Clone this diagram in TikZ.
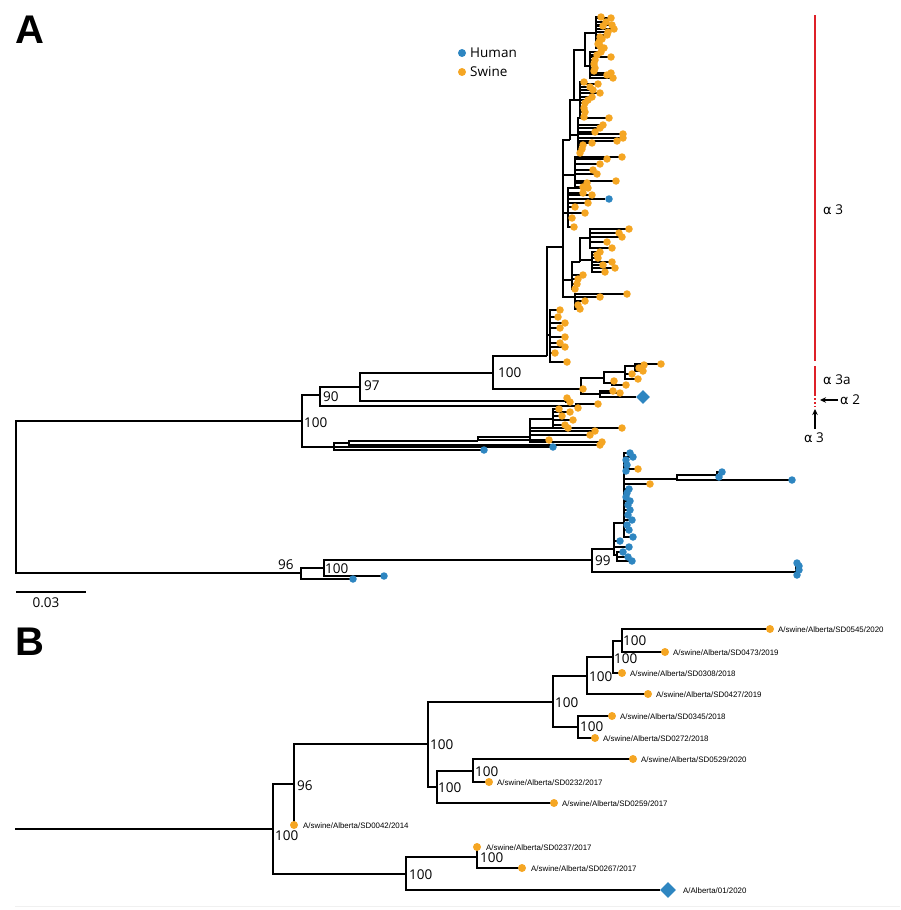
\documentclass[tikz,border=0pt]{standalone}
\usepackage{fontspec}
\setmainfont{Open Sans}
\newfontfamily\arialf{Liberation Sans}
\newfontfamily\grkf{DejaVu Sans}
\usetikzlibrary{shapes.geometric,arrows.meta}
\pgfdeclarelayer{bg}
\pgfsetlayers{bg,main}
\definecolor{orng}{RGB}{245,166,35}
\definecolor{blu}{RGB}{46,134,193}
\definecolor{redl}{RGB}{222,32,40}
\tikzset{
 brn/.style={line width=1.3pt},
 dotO/.style={circle, fill=orng, minimum size=7.5pt, inner sep=0pt},
 dotB/.style={circle, fill=blu, minimum size=7.5pt, inner sep=0pt},
 dotOb/.style={dotO, minimum size=8pt},
 bsl/.style={font=\fontsize{13.5}{14}\selectfont, inner sep=0pt, anchor=west},
 leaflab/.style={font=\arialf\fontsize{7.9}{8}\selectfont, inner sep=0pt, anchor=west},
 dmdA/.style={diamond, fill=blu, minimum size=14pt, inner sep=0pt},
 dmdB/.style={diamond, fill=blu, minimum size=16pt, inner sep=0pt},
 panlab/.style={font=\arialf\bfseries\fontsize{40}{40}\selectfont, anchor=base west, inner sep=0pt},
 redbar/.style={draw=redl, line width=2pt},
}
\newcommand\alf{{\grkf\fontsize{13}{14}\selectfont α}}
\newcommand\lnk[2]{\begin{pgfonlayer}{bg}\draw[brn] (#1) |- (#2);\end{pgfonlayer}}
\newcommand\grp[4]{%
 \foreach \xx/\yy [count=\k] in {#4}{%
   \node[#3] (#2-\k) at (\xx,\yy) {};
   \begin{pgfonlayer}{bg}\draw[brn] (#1) |- (#2-\k.center);\end{pgfonlayer}
 }}
\begin{document}
\begin{tikzpicture}[x=1pt,y=-1pt]
\useasboundingbox (0,0) rectangle (900,910);
% ================= PANEL A =================
\node[panlab] (pA) at (15,43) {A};
% legend
\node[dotB, minimum size=8pt] (lgB) at (462,53) {};
\node[bsl] (lgBt) at (470,53) {Human};
\node[dotO, minimum size=8pt] (lgO) at (462,72) {};
\node[bsl] (lgOt) at (470,72) {Swine};
% backbone
\coordinate (RA) at (16,497);
\coordinate (A1) at (302,421);
\coordinate (A2) at (301,573);
\lnk{RA}{A1}\lnk{RA}{A2}
\coordinate (A3) at (320,395);
\coordinate (L1) at (334,447);
\lnk{A1}{A3}\lnk{A1}{L1}
\coordinate (A4) at (360,387);
\coordinate (A5) at (576,406);
\lnk{A3}{A4}\lnk{A3}{A5}
\grp{A5}{a5}{dotO}{578/408,598/404}
\coordinate (A6) at (493,373);
\coordinate (A7) at (566,401);
\lnk{A4}{A6}\lnk{A4}{A7}
\grp{A7}{a7}{dotO}{567/398,570/402}
\coordinate (T0) at (547,356);
\coordinate (Q0) at (581,389);
\lnk{A6}{T0}\lnk{A6}{Q0}
% alpha 3a
\coordinate (Q1) at (604,378);
\coordinate (Q5) at (600,394);
\lnk{Q0}{Q1}\lnk{Q0}{Q5}
\grp{Q0}{q0}{dotO}{583/389}
\coordinate (Q2) at (625,372);
\coordinate (Q3) at (612,383);
\lnk{Q1}{Q2}\lnk{Q1}{Q3}
\grp{Q3}{q3}{dotO}{614/381,626/385}
\coordinate (Q4) at (635,366);
\lnk{Q2}{Q4}
\grp{Q2}{q2}{dotO}{632/374,638/379}
\grp{Q4}{q4}{dotO}{661/364,644/365,639/368,643/371}
\grp{Q5}{q5}{dotO}{613/391,620/393}
\node[dmdA] (qd) at (643,397) {};
\lnk{Q5}{qd}
% alpha 3 clade
\coordinate (S2) at (563,247);
\coordinate (G1) at (550,335);
\lnk{T0}{S2}\lnk{T0}{G1}
\grp{G1}{g1}{dotO}{560/310,558/317,565/323,560/328,565/337,560/343,565/347,555/353,567/362}
\coordinate (G2) at (575,297);
\coordinate (G3) at (572,280);
\coordinate (G5) at (568,213);
\coordinate (G6) at (575,175);
\coordinate (S3) at (570,140);
\lnk{S2}{G2}\lnk{S2}{G3}\lnk{S2}{G5}\lnk{S2}{G6}\lnk{S2}{S3}
\grp{G2}{g2}{dotO}{627/294,600/297,585/301,578/305,580/309}
\coordinate (G4) at (580,262);
\lnk{G3}{G4}
\grp{G3}{g3}{dotO}{583/275,578/279,577/284,575/289}
\coordinate (G4a) at (590,238);
\coordinate (G4b) at (592,260);
\lnk{G4}{G4a}\lnk{G4}{G4b}
\grp{G4a}{g4a}{dotO}{629/229,619/233,622/237,607/242,612/248}
\grp{G4b}{g4b}{dotO}{600/252,597/255,598/258,612/262,603/265,615/268,605/272}
\grp{G5}{g5}{dotO}{588/188,583/193,592/195,588/203,575/207,585/213,572/218,574/227}
\node[dotB] (g5b) at (609,199) {};
\lnk{G5}{g5b}
\grp{G6}{g6}{dotO}{622/157,607/159,600/164,593/170,597/174,616/181,587/183,583/187}
\coordinate (G7) at (578,135);
\coordinate (S4) at (574,100);
\lnk{S3}{G7}\lnk{S3}{S4}
\grp{G7}{g7}{dotO}{609/118,603/125,600/128,595/132,623/134,623/138,617/141,592/143,583/145,582/149,580/153}
\coordinate (G8) at (580,100);
\coordinate (S5) at (585,50);
\lnk{S4}{G8}\lnk{S4}{S5}
\grp{G8}{g8}{dotO}{584/82,598/84,590/87,593/90,600/93,592/97,588/100,585/103,584/108,585/112,584/117}
\coordinate (G9) at (590,66);
\coordinate (G10) at (596,33);
\lnk{S5}{G9}\lnk{S5}{G10}
\grp{G9}{g9}{dotO}{601/52,597/55,611/57,595/60,594/64,595/68,594/71,607/75,611/73,613/78}
\grp{G10}{g10}{dotO}{601/17,611/18,606/22,612/25,603/26,614/29,608/32,607/35,600/37,602/39,599/42,598/44,600/46,604/48}
% lower swine clade
\coordinate (L2) at (349,443);
\lnk{L1}{L2}
\grp{L1}{l1}{dotB}{553/447,484/450}
\coordinate (L3) at (478,441);
\lnk{L2}{L3}
\grp{L2}{l2}{dotO}{600/445}
\coordinate (L4) at (530,437);
\lnk{L3}{L4}
\grp{L3}{l3}{dotO}{549/440}
\coordinate (L5) at (553,419);
\lnk{L4}{L5}
\grp{L4}{l4}{dotO}{622/428,595/431,590/435,602/442}
\grp{L5}{l5}{dotO}{559/409,570/412,562/416,573/420,565/425,568/428}
% human clade
\coordinate (A8) at (324,568);
\lnk{A2}{A8}
\grp{A2}{a2}{dotB}{353/579}
\coordinate (H0) at (592,560);
\lnk{A8}{H0}
\grp{A8}{a8}{dotB}{384/576}
\coordinate (H1) at (614,549);
\coordinate (H5) at (796,572);
\lnk{H0}{H1}\lnk{H0}{H5}
\grp{H5}{h5}{dotB}{797/563,799/566,799/570,797/575}
\coordinate (H2) at (624,523);
\coordinate (H7) at (617,555);
\lnk{H1}{H2}\lnk{H1}{H7}
\grp{H1}{h1}{dotB}{620/541,629/547}
\grp{H7}{h7}{dotB}{623/552,628/557,632/561}
\coordinate (H3) at (677,479);
\lnk{H2}{H3}
\grp{H2}{h2}{dotB}{630/453,633/457,626/460,627/465,626/471,629/489,627/493,626/497,630/501,628/505,630/510,628/515,632/520,627/525,629/530,633/537}
\grp{H2}{h2o}{dotO}{638/469,650/484}
\coordinate (H4) at (717,475);
\lnk{H3}{H4}
\grp{H3}{h3}{dotB}{792/480}
\grp{H4}{h4}{dotB}{722/472,719/477}
% bootstrap labels A
\node[bsl] (lA1) at (304,423) {100};
\node[bsl] (lA3) at (323,397) {90};
\node[bsl] (lA4) at (364,386) {97};
\node[bsl] (lA6) at (498,373) {100};
\node[bsl] (lA2) at (278,565) {96};
\node[bsl] (lA8) at (325,569) {100};
\node[bsl] (lH0) at (595,561) {99};
% scale bar
\coordinate (sb1) at (16,592);
\coordinate (sb2) at (86,592);
\draw[brn] (sb1) -- (sb2);
\node[font=\fontsize{13.5}{14}\selectfont, inner sep=0pt] (sbt) at (46,603) {0.03};
% clade bars
\coordinate (rb1) at (815,15);
\coordinate (rb2) at (815,361);
\coordinate (rb3) at (815,366);
\coordinate (rb4) at (815,396);
\coordinate (rb5) at (815,398);
\coordinate (rb6) at (815,407);
\draw[redbar] (rb1) -- (rb2);
\draw[redbar] (rb3) -- (rb4);
\draw[redbar, dash pattern=on 2pt off 2pt] (rb5) -- (rb6);
\node[bsl] (c3) at (823,210) {\alf\ 3};
\node[bsl] (c3a) at (823,380) {\alf\ 3a};
\node[bsl] (c2) at (840,400) {\alf\ 2};
\coordinate (ar2s) at (838,400);
\coordinate (ar2e) at (820,400);
\draw[line width=1.1pt, -{Stealth[length=6pt,width=5.5pt]}] (ar2s) -- (ar2e);
\coordinate (ar3s) at (815,429);
\coordinate (ar3e) at (815,409);
\draw[line width=1.1pt, -{Stealth[length=6pt,width=5.5pt]}] (ar3s) -- (ar3e);
\node[font=\fontsize{13.5}{14}\selectfont, inner sep=0pt] (c3b) at (814,438) {\alf\ 3};
% ================= PANEL B =================
\node[panlab] (pB) at (15,655) {B};
\coordinate (bR) at (15,829);
\coordinate (bN1) at (273,829);
\coordinate (bN2) at (294,784);
\coordinate (bN3) at (428,744);
\coordinate (bN8) at (553,702);
\coordinate (bN9) at (587,676);
\coordinate (bN11) at (613,657);
\coordinate (bN12) at (622,641);
\coordinate (bN10) at (578,727);
\coordinate (bN6) at (437,787);
\coordinate (bN7) at (473,771);
\coordinate (bN4) at (406,874);
\coordinate (bN5) at (477,857);
\begin{pgfonlayer}{bg}\draw[brn] (bR) -- (bN1);\end{pgfonlayer}
\lnk{bN1}{bN2}\lnk{bN1}{bN4}
\lnk{bN2}{bN3}
\lnk{bN3}{bN8}\lnk{bN3}{bN6}
\lnk{bN8}{bN9}\lnk{bN8}{bN10}
\lnk{bN9}{bN11}
\lnk{bN11}{bN12}
\lnk{bN6}{bN7}
\lnk{bN4}{bN5}
% leaves
\node[dotOb] (bL1) at (770,629) {};  \lnk{bN12}{bL1.center}
\node[dotOb] (bL2) at (665,652) {};  \lnk{bN12}{bL2.center}
\node[dotOb] (bL3) at (622,673) {};  \lnk{bN11}{bL3.center}
\node[dotOb] (bL4) at (648,694) {};  \lnk{bN9}{bL4.center}
\node[dotOb] (bL5) at (612,716) {};  \lnk{bN10}{bL5.center}
\node[dotOb] (bL6) at (595,738) {};  \lnk{bN10}{bL6.center}
\node[dotOb] (bL7) at (633,759) {};  \lnk{bN7}{bL7.center}
\node[dotOb] (bL8) at (489,782) {};  \lnk{bN7}{bL8.center}
\node[dotOb] (bL9) at (554,803) {};  \lnk{bN6}{bL9.center}
\node[dotOb] (bL10) at (294,825) {}; \lnk{bN2}{bL10.center}
\node[dotOb] (bL11) at (477,847) {}; \lnk{bN5}{bL11.center}
\node[dotOb] (bL12) at (522,868) {}; \lnk{bN5}{bL12.center}
\node[dmdB] (bL13) at (668,890) {};  \lnk{bN4}{bL13}
\node[leaflab] (bT1) at (778,630) {A/swine/Alberta/SD0545/2020};
\node[leaflab] (bT2) at (673,653) {A/swine/Alberta/SD0473/2019};
\node[leaflab] (bT3) at (630,674) {A/swine/Alberta/SD0308/2018};
\node[leaflab] (bT4) at (656,695) {A/swine/Alberta/SD0427/2019};
\node[leaflab] (bT5) at (620,717) {A/swine/Alberta/SD0345/2018};
\node[leaflab] (bT6) at (603,739) {A/swine/Alberta/SD0272/2018};
\node[leaflab] (bT7) at (641,760) {A/swine/Alberta/SD0529/2020};
\node[leaflab] (bT8) at (497,783) {A/swine/Alberta/SD0232/2017};
\node[leaflab] (bT9) at (562,804) {A/swine/Alberta/SD0259/2017};
\node[leaflab] (bT10) at (303,826) {A/swine/Alberta/SD0042/2014};
\node[leaflab] (bT11) at (486,848) {A/swine/Alberta/SD0237/2017};
\node[leaflab] (bT12) at (531,869) {A/swine/Alberta/SD0267/2017};
\node[leaflab] (bT13) at (683,891) {A/Alberta/01/2020};
% bootstrap labels B
\node[bsl] (bb1) at (275,836) {100};
\node[bsl] (bb2) at (297,786) {96};
\node[bsl] (bb3) at (430,745) {100};
\node[bsl] (bb8) at (555,703) {100};
\node[bsl] (bb9) at (589,677) {100};
\node[bsl] (bb11) at (614,659) {100};
\node[bsl] (bb12) at (623,641) {100};
\node[bsl] (bb10) at (580,727) {100};
\node[bsl] (bb7) at (475,772) {100};
\node[bsl] (bb6) at (438,788) {100};
\node[bsl] (bb5) at (480,858) {100};
\node[bsl] (bb4) at (409,875) {100};
% faint separator
\coordinate (sepL) at (15,906);
\coordinate (sepR) at (900,906);
\draw[black!6, line width=1pt] (sepL) -- (sepR);
\end{tikzpicture}
\end{document}
